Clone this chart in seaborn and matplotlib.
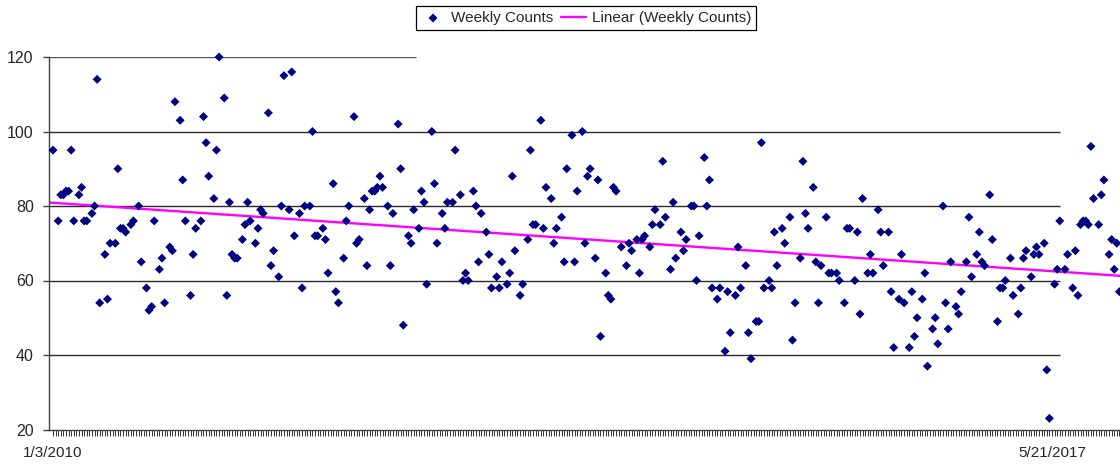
import numpy as np
import pandas as pd
import matplotlib
matplotlib.use("Agg")
import matplotlib.pyplot as plt
import seaborn as sns

# weeks since 1/3/2010 and the weekly count for that week
weeks = [
    0, 2, 3, 4, 5, 6, 7, 8, 10, 11,
    12, 13, 15, 16, 17, 18, 20, 21, 22, 24,
    25, 26, 27, 28, 30, 31, 33, 34, 36, 37,
    38, 39, 41, 42, 43, 45, 46, 47, 49, 50,
    51, 53, 54, 55, 57, 58, 59, 60, 62, 63,
    64, 66, 67, 68, 69, 70, 71, 73, 74, 75,
    76, 78, 79, 80, 81, 83, 84, 85, 87, 88,
    89, 91, 92, 93, 95, 96, 97, 99, 100, 101,
    102, 104, 105, 106, 108, 109, 110, 112, 113, 114,
    116, 117, 118, 120, 121, 122, 123, 124, 125, 126,
    127, 129, 130, 131, 133, 134, 135,
    137, 138, 139, 141, 142, 143, 144, 146, 147, 148,
    150, 151, 152, 154, 155, 157, 158, 159, 160, 162,
    163, 164, 165, 167, 168, 169, 171, 172, 173, 175,
    176, 177, 178, 180, 181, 183, 184, 185, 186, 188,
    189, 190, 192, 193, 194, 196, 197, 198, 200, 201,
    202, 204, 205, 206, 207, 209, 210, 211, 213, 214,
    215, 216, 217, 219, 221, 222, 223, 225, 226, 227,
    228, 230, 231, 232, 234, 235, 236, 238, 239, 240,
    242, 243, 244, 246, 247, 248, 249, 251, 252, 253,
    254, 256, 257, 259, 260, 261, 263, 264, 265, 267,
    268, 269, 271, 272,
    273, 274, 276, 277, 278, 279, 281, 282, 284, 285,
    286, 288, 289, 290, 291, 293, 294, 295, 296, 298,
    299, 300, 302, 303, 305, 306, 307, 309, 310, 311,
    312, 314, 315, 316, 318, 319, 320, 322, 323, 324,
    326, 327, 328, 330, 331, 332, 333, 335, 336, 337,
    339, 340, 341, 343, 344, 345, 346, 348, 349, 350,
    352, 353, 354, 356, 357, 358, 359, 361, 362, 364,
    365, 366, 367, 369, 370, 372, 373, 374, 375, 377,
    378, 379, 380, 382, 383, 384, 386, 387, 388, 390,
    391, 393, 394, 395, 396, 397, 398, 399, 400, 401,
    403, 404, 405, 407, 408, 409, 410, 411,
]
counts = [
    95, 76, 83, 83, 84, 84, 95, 76, 83, 85,
    76, 76, 78, 80, 114, 54, 67, 55, 70, 70,
    90, 74, 74, 73, 75, 76, 80, 65, 58, 52,
    53, 76, 63, 66, 54, 69, 68, 108, 103, 87,
    76, 56, 67, 74, 76, 104, 97, 88, 82, 95,
    120, 109, 56, 81, 67, 66, 66, 71, 75, 81,
    76, 70, 74, 79, 78, 105, 64, 68, 61, 80,
    115, 79, 116, 72, 78, 58, 80, 80, 100, 72,
    72, 74, 71, 62, 86, 57, 54, 66, 76, 80,
    104, 70, 71, 82, 64, 79, 84, 84, 85, 88,
    85, 80, 64, 78, 102, 90, 48,
    72, 70, 79, 74, 84, 81, 59, 100, 86, 70,
    78, 74, 81, 81, 95, 83, 60, 62, 60, 84,
    80, 65, 78, 73, 67, 58, 61, 58, 65, 59,
    62, 88, 68, 56, 59, 71, 95, 75, 75, 103,
    74, 85, 82, 70, 74, 77, 65, 90, 99, 65,
    84, 100, 70, 88, 90, 66, 87, 45, 62, 56,
    55, 85, 84, 69, 64, 70, 68, 71, 62, 71,
    72, 69, 75, 79, 75, 92, 77, 63, 81, 66,
    73, 68, 71, 80, 80, 60, 72, 93, 80, 87,
    58, 55, 58, 41, 57, 46, 56, 69, 58, 64,
    46, 39, 49, 49,
    97, 58, 60, 58, 73, 64, 74, 70, 77, 44,
    54, 66, 92, 78, 74, 85, 65, 54, 64, 77,
    62, 62, 62, 60, 54, 74, 74, 60, 73, 51,
    82, 62, 67, 62, 79, 73, 64, 73, 57, 42,
    55, 67, 54, 42, 57, 45, 50, 55, 62, 37,
    47, 50, 43, 80, 54, 47, 65, 53, 51, 57,
    65, 77, 61, 67, 73, 65, 64, 83, 71, 49,
    58, 58, 60, 66, 56, 51, 58, 66, 68, 61,
    67, 69, 67, 70, 36, 23, 59, 63, 76, 63,
    67, 58, 68, 56, 75, 76, 76, 75, 96, 82,
    75, 83, 87, 67, 71, 63, 70, 57,
]
tick_weeks = [0, 385]
tick_labels = ["1/3/2010", "5/21/2017"]
y_ticks = [20, 40, 60, 80, 100, 120]
series_label = "Weekly Counts"
trend_label = "Linear (Weekly Counts)"

sns.set_style("white")
plt.rcParams["font.family"] = ["Liberation Sans", "DejaVu Sans"]

df = pd.DataFrame({"week": weeks, "count": counts})

fig = plt.figure(figsize=(11.2, 4.68), dpi=100)
ax = fig.add_axes([49 / 1120, 38.5 / 468, 1072 / 1120, 372.5 / 468])
x_left, x_right = -1.54, 411.6
ax.set_xlim(x_left, x_right)
ax.set_ylim(20, 120)

# horizontal gridlines (the chart's plot area ends before the axis line)
for yv in [40, 60, 80, 100]:
    ax.hlines(yv, x_left, 388, color="#2a2a2a", lw=1.0, zorder=1)
ax.hlines(120, x_left, 140, color="#555555", lw=1.0, zorder=1)

sns.regplot(data=df, x="week", y="count", scatter=False, truncate=False,
            ci=None, ax=ax, label=trend_label,
            line_kws=dict(color="#FF00FF", lw=1.7, zorder=2))
sns.scatterplot(data=df, x="week", y="count", marker="D", s=21,
                color="#000080", edgecolor="none", linewidth=0, ax=ax,
                zorder=3, label=series_label, clip_on=False)

ax.set_xlabel("")
ax.set_ylabel("")
for s in ["top", "right"]:
    ax.spines[s].set_visible(False)
for s in ["left", "bottom"]:
    ax.spines[s].set_color("#404040")
    ax.spines[s].set_linewidth(1.0)

ax.set_xticks(tick_weeks)
ax.set_xticklabels(tick_labels)
ax.set_xticks(np.arange(0, 412), minor=True)
ax.set_yticks(y_ticks)
ax.tick_params(axis="x", which="both", bottom=True, direction="out",
               length=4, width=0.7, color="#333333", pad=8, labelsize=11)
ax.tick_params(axis="y", which="major", left=True, direction="out",
               length=4, width=1.0, color="#404040", pad=7, labelsize=11.5)

handles, labels = ax.get_legend_handles_labels()
order = [labels.index(series_label), labels.index(trend_label)]
leg = ax.legend([handles[i] for i in order], [labels[i] for i in order],
                loc="center", bbox_to_anchor=(586 / 1120, 1 - 18 / 468),
                bbox_transform=fig.transFigure, ncol=2, frameon=True,
                fancybox=False, edgecolor="black", framealpha=1,
                fontsize=11, handlelength=1.6, handletextpad=0.4,
                columnspacing=0.5, borderpad=0.3, borderaxespad=0)
leg.get_frame().set_linewidth(0.9)

fig.savefig("out.png", dpi=100)
